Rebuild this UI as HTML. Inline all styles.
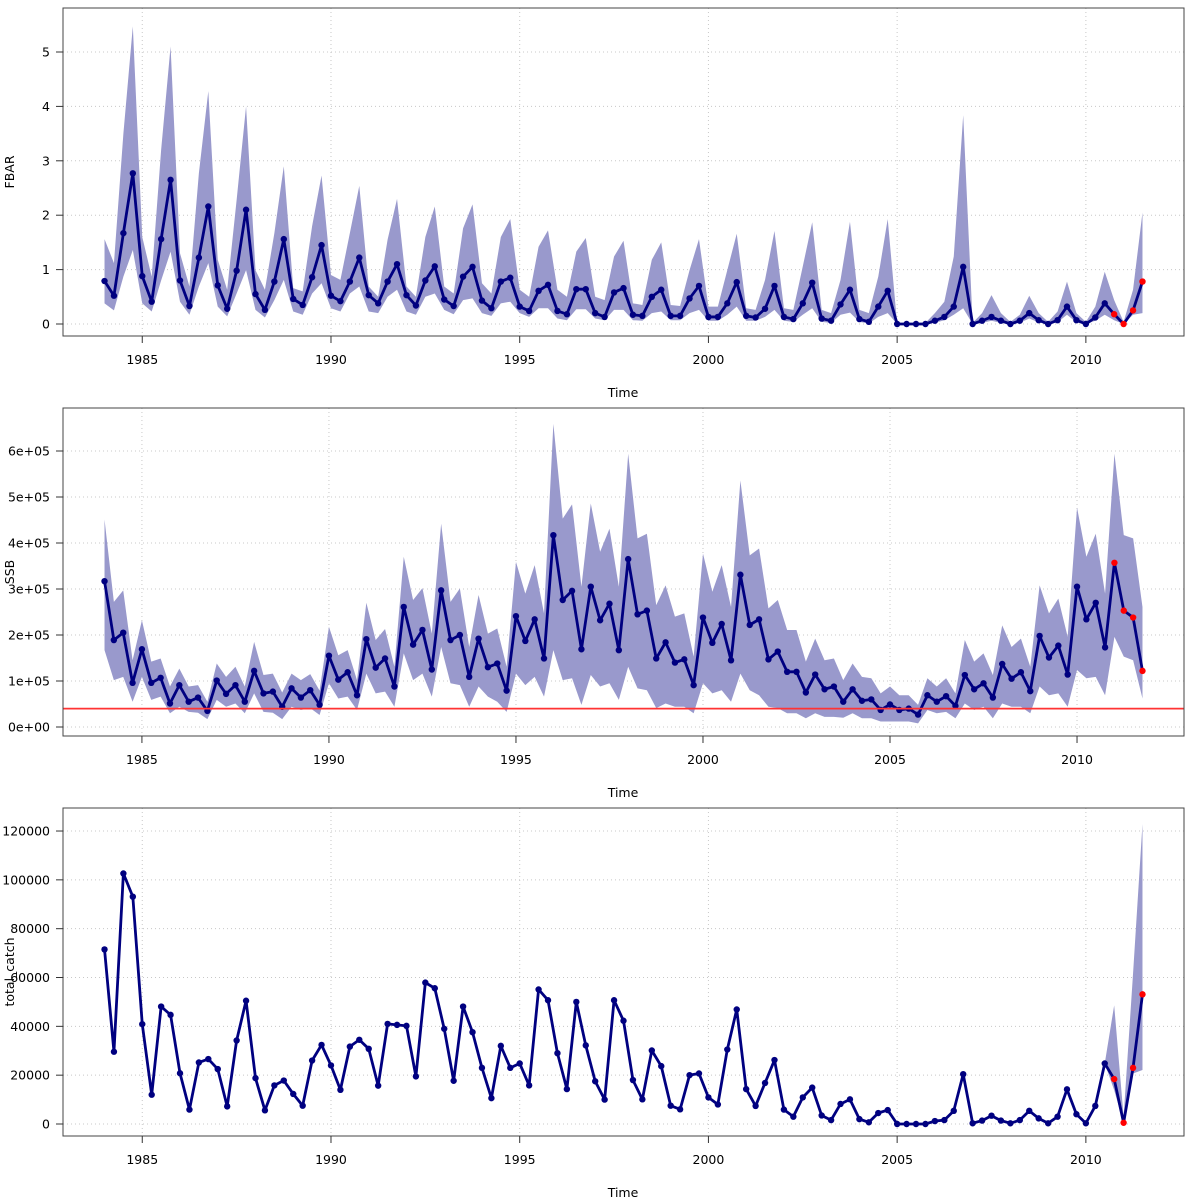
<!DOCTYPE html>
<html><head><meta charset="utf-8">
<style>
html,body{margin:0;padding:0;background:#fff;}
svg{display:block;font-family:"DejaVu Sans","Liberation Sans",sans-serif;}
</style></head>
<body>
<svg id="chart" width="1200" height="1200" viewBox="0 0 1200 1200" xmlns="http://www.w3.org/2000/svg">
<rect width="1200" height="1200" fill="#fff"/>
</svg>
<script>
// ---------- DATA ----------
const yearTicks = [1985, 1990, 1995, 2000, 2005, 2010];
const startYear = 1984;
const forecastCount = 4;

const fbar = [0.79,0.52,1.67,2.77, 0.88,0.41,1.56,2.65, 0.8,0.33,1.22,2.16, 0.71,0.28,0.98,2.1,
 0.55,0.26,0.78,1.56, 0.46,0.35,0.86,1.45, 0.52,0.42,0.78,1.22, 0.53,0.38,0.78,1.1,
 0.53,0.34,0.8,1.06, 0.45,0.33,0.87,1.05, 0.43,0.29,0.78,0.85, 0.32,0.24,0.61,0.72,
 0.24,0.18,0.64,0.64, 0.2,0.13,0.58,0.66, 0.17,0.15,0.5,0.63, 0.15,0.15,0.47,0.7,
 0.13,0.13,0.38,0.77, 0.15,0.12,0.28,0.7, 0.13,0.09,0.38,0.76, 0.1,0.06,0.36,0.63,
 0.09,0.04,0.32,0.61, 0,0,0,0, 0.06,0.13,0.32,1.05, 0,0.06,0.13,0.06,
 0,0.06,0.2,0.07, 0,0.07,0.32,0.07, 0,0.12,0.38,0.18, 0,0.25,0.78];
const fbarHi = [1.56,1.12,3.5,5.47, 1.6,0.87,3.2,5.1, 1.3,0.69,2.77,4.28, 1.18,0.63,2.28,4.0,
 0.99,0.63,1.67,2.9, 0.66,0.6,1.8,2.73, 0.9,0.81,1.67,2.54, 0.69,0.5,1.55,2.3,
 0.69,0.5,1.6,2.16, 0.69,0.56,1.76,2.2, 0.75,0.56,1.6,1.93, 0.63,0.5,1.42,1.72,
 0.63,0.5,1.33,1.58, 0.5,0.44,1.24,1.53, 0.38,0.35,1.18,1.5, 0.35,0.33,0.99,1.56,
 0.32,0.32,0.99,1.66, 0.29,0.26,0.81,1.71, 0.29,0.26,1.06,1.87, 0.26,0.2,0.81,1.88,
 0.26,0.2,0.87,1.93, 0,0,0,0.02, 0.2,0.41,1.24,3.84, 0.02,0.2,0.53,0.2,
 0.04,0.17,0.52,0.2, 0.04,0.23,0.78,0.2, 0.04,0.32,0.96,0.44, 0.04,0.63,2.05];
const fbarLo = [0.38,0.25,0.87,1.36, 0.38,0.23,0.8,1.33, 0.41,0.17,0.69,1.12, 0.32,0.14,0.56,0.99,
 0.26,0.12,0.44,0.81, 0.23,0.17,0.56,0.75, 0.29,0.23,0.56,0.69, 0.23,0.2,0.5,0.63,
 0.23,0.17,0.5,0.56, 0.26,0.18,0.44,0.47, 0.2,0.15,0.38,0.41, 0.2,0.13,0.29,0.29,
 0.1,0.07,0.27,0.27, 0.1,0.07,0.26,0.26, 0.07,0.06,0.2,0.23, 0.07,0.07,0.2,0.26,
 0.06,0.06,0.17,0.32, 0.06,0.06,0.13,0.26, 0.06,0.04,0.17,0.29, 0.04,0.02,0.17,0.21,
 0.04,0.01,0.13,0.2, 0,0,0,0, 0.02,0.07,0.17,0.29, 0,0.02,0.06,0.02,
 0,0.02,0.1,0.03, 0,0.03,0.17,0.03, 0,0.06,0.17,0.07, 0,0.17,0.2];

// SSB in units of 1e5
const ssb = [3.17,1.89,2.05,0.96, 1.69,0.96,1.07,0.51, 0.91,0.55,0.64,0.35, 1.01,0.72,0.91,0.55,
 1.22,0.73,0.77,0.44, 0.84,0.64,0.8,0.48, 1.55,1.03,1.19,0.69, 1.91,1.29,1.49,0.88,
 2.61,1.79,2.11,1.25, 2.97,1.89,2.0,1.09, 1.92,1.3,1.38,0.79, 2.41,1.87,2.34,1.49,
 4.17,2.76,2.96,1.69, 3.05,2.32,2.68,1.67, 3.65,2.45,2.53,1.49, 1.84,1.4,1.47,0.91,
 2.38,1.83,2.24,1.45, 3.31,2.22,2.34,1.47, 1.64,1.2,1.2,0.75, 1.14,0.82,0.88,0.55,
 0.82,0.57,0.6,0.37, 0.49,0.37,0.4,0.27, 0.69,0.55,0.67,0.46, 1.13,0.82,0.95,0.64,
 1.37,1.05,1.19,0.78, 1.98,1.51,1.77,1.14, 3.05,2.34,2.7,1.73, 3.57,2.53,2.38,1.22];
const ssbHi = [4.51,2.72,2.97,1.45, 2.32,1.42,1.49,0.88, 1.27,0.88,0.91,0.55, 1.38,1.09,1.31,0.88,
 1.85,1.13,1.16,0.75, 1.16,1.02,1.15,0.79, 2.18,1.56,1.67,1.02, 2.7,1.89,2.13,1.31,
 3.7,2.76,3.02,2.03, 4.42,2.72,3.01,1.74, 2.87,2.03,2.14,1.31, 3.59,2.9,3.52,2.47,
 6.59,4.53,4.84,3.05, 4.86,3.81,4.31,3.05, 5.94,4.1,4.2,2.65, 3.08,2.4,2.47,1.53,
 3.77,2.94,3.52,2.61, 5.36,3.73,3.88,2.58, 2.76,2.11,2.11,1.42, 1.92,1.45,1.49,1.02,
 1.38,1.09,1.06,0.73, 0.88,0.69,0.69,0.48, 1.06,0.88,1.06,0.73, 1.89,1.42,1.6,1.13,
 2.21,1.74,1.92,1.31, 3.08,2.47,2.79,1.96, 4.77,3.7,4.2,2.9, 5.94,4.17,4.1,2.61];
const ssbLo = [1.67,1.02,1.09,0.55, 1.09,0.59,0.66,0.3, 0.44,0.33,0.31,0.17, 0.59,0.44,0.51,0.3,
 0.73,0.33,0.31,0.17, 0.44,0.37,0.41,0.26, 0.95,0.62,0.66,0.37, 1.16,0.73,0.77,0.44,
 1.6,1.02,1.16,0.66, 1.74,0.95,0.91,0.44, 0.88,0.66,0.55,0.33, 1.16,0.91,1.09,0.66,
 1.67,1.02,1.06,0.48, 1.13,0.88,0.95,0.59, 1.31,0.84,0.8,0.41, 0.51,0.44,0.44,0.3,
 0.95,0.73,0.8,0.55, 1.16,0.8,0.69,0.44, 0.41,0.3,0.3,0.19, 0.3,0.22,0.22,0.2,
 0.3,0.19,0.19,0.12, 0.12,0.12,0.12,0.08, 0.37,0.3,0.33,0.19, 0.51,0.37,0.44,0.19,
 0.51,0.44,0.44,0.3, 0.88,0.69,0.73,0.44, 1.24,1.06,1.09,0.69, 1.96,1.53,1.45,0.62];
const ssbRef = 0.4;

// total catch in thousands
const catchK = [71.5,29.6,102.6,93.1, 40.9,12.0,48.1,44.7, 20.8,5.9,25.2,26.6, 22.5,7.2,34.2,50.5,
 18.8,5.6,15.8,17.8, 12.3,7.5,26.0,32.4, 24.0,14.0,31.7,34.5, 30.8,15.7,41.0,40.6,
 40.2,19.5,57.9,55.6, 39.0,17.7,48.1,37.6, 23.0,10.6,32.0,23.0, 24.8,15.8,55.1,50.7,
 29.0,14.3,50.0,32.2, 17.5,10.0,50.7,42.3, 18.0,10.1,30.1,23.7, 7.5,6.0,20.0,20.7,
 10.9,8.0,30.5,46.9, 14.3,7.4,16.8,26.2, 5.9,3.0,10.9,14.9, 3.5,1.6,8.2,10.1,
 2.0,0.7,4.5,5.7, 0,0,0,0, 1.2,1.6,5.4,20.4, 0.3,1.4,3.4,1.4,
 0.3,1.6,5.4,2.3, 0.3,3.0,14.2,4.0, 0.3,7.4,24.8,18.4, 0.5,23.0,53.1];
const catchBandHi = [24.8,48.6,3.0,61.6,122.9];
const catchBandLo = [24.8,13.9,0.3,20.7,22.1];

const fbarTicks = [0,1,2,3,4,5];
const fbarTickLabels = ["0","1","2","3","4","5"];
const ssbTicks = [0,1,2,3,4,5,6];
const ssbTickLabels = ["0e+00","1e+05","2e+05","3e+05","4e+05","5e+05","6e+05"];
const catchTicks = [0,20,40,60,80,100,120];
const catchTickLabels = ["0","20000","40000","60000","80000","100000","120000"];

// ---------- DRAW ----------
const NS = "http://www.w3.org/2000/svg";
const svg = document.getElementById('chart');
function mk(tag, attrs, parent){
  const e = document.createElementNS(NS, tag);
  for (const k in attrs) e.setAttribute(k, attrs[k]);
  (parent||svg).appendChild(e);
  return e;
}
const L = 63, R = 1184;

function drawPanel(p){
  const g = mk('g', {});
  
  
  const n = p.values.length;
  const tEnd = startYear + (n-1)/4;
  const span = tEnd - startYear;
  const tLo = startYear - 0.04*span, tHi = tEnd + 0.04*span;
  const xs = t => L + (t - tLo)/(tHi - tLo)*(R - L);
  const ys = v => p.y0 - v*p.ppu;
  const tOf = i => startYear + i/4;

  // grid
  const grid = mk('g', {stroke:'#c8c8c8','stroke-width':1,'stroke-dasharray':'1,3'}, g);
  
  
  yearTicks.forEach(t => mk('line',{x1:xs(t),x2:xs(t),y1:p.top,y2:p.bot},grid));
  p.ticks.forEach(v => mk('line',{x1:L,x2:R,y1:ys(v),y2:ys(v)},grid));

  // band
  if (p.hi){
    const i0 = p.bandStart||0;
    let pts = [];
    for (let j=0;j<p.hi.length;j++) pts.push(xs(tOf(i0+j))+','+ys(p.hi[j]));
    for (let j=p.lo.length-1;j>=0;j--) pts.push(xs(tOf(i0+j))+','+ys(p.lo[j]));
    const band = mk('polygon',{points:pts.join(' '),fill:'#9999cc',stroke:'none'},g);
    
    
  }

  // line
  const lp = p.values.map((v,i)=>xs(tOf(i))+','+ys(v)).join(' ');
  const line = mk('polyline',{points:lp,fill:'none',stroke:'#000080','stroke-width':2.8,'stroke-linejoin':'round'},g);
  
  

  // points
  p.values.forEach((v,i)=>{
    const red = i >= n - forecastCount;
    const c = mk('circle',{cx:xs(tOf(i)),cy:ys(v),r:3.2,fill:red?'#ff0000':'#000080'},g);
    
    
  });

  // reference line
  if (p.ref !== undefined){
    const rl = mk('line',{x1:L,x2:R,y1:ys(p.ref),y2:ys(p.ref),stroke:'#ff3333','stroke-width':1.8},g);
    
    
  }

  // frame
  const fr = mk('rect',{x:L,y:p.top,width:R-L,height:p.bot-p.top,fill:'none',stroke:'#444','stroke-width':1},g);
  
  

  // x axis
  const xa = mk('g',{},g);
  
  
  yearTicks.forEach(t=>{
    mk('line',{x1:xs(t),x2:xs(t),y1:p.bot,y2:p.bot+7,stroke:'#333','stroke-width':1},xa);
    const tx = mk('text',{x:xs(t),y:p.bot+28,'text-anchor':'middle','font-size':12.5,fill:'#000'},xa);
    tx.textContent = t;
    
    
  });
  const xt = mk('text',{x:623,y:p.bot+61,'text-anchor':'middle','font-size':12.5,fill:'#000'},g);
  xt.textContent = 'Time';
  
  

  // y axis
  const ya = mk('g',{},g);
  
  
  p.ticks.forEach((v,k)=>{
    mk('line',{x1:L-7,x2:L,y1:ys(v),y2:ys(v),stroke:'#333','stroke-width':1},ya);
    const tx = mk('text',{x:L-13,y:ys(v)+4.5,'text-anchor':'end','font-size':12.5,fill:'#000'},ya);
    tx.textContent = p.labels[k];
    
    
  });
  const cy = (p.top+p.bot)/2;
  const yt = mk('text',{x:14,y:cy,'text-anchor':'middle','font-size':12.5,fill:'#000',transform:'rotate(-90 14 '+cy+')'},g);
  yt.textContent = p.title;
  
  
}

drawPanel({name:'fbar',title:'FBAR',top:8,bot:336,y0:324,ppu:54.4,values:fbar,hi:fbarHi,lo:fbarLo,ticks:fbarTicks,labels:fbarTickLabels});
drawPanel({name:'ssb',title:'SSB',top:408,bot:736,y0:727,ppu:46,values:ssb,hi:ssbHi,lo:ssbLo,ref:ssbRef,ticks:ssbTicks,labels:ssbTickLabels});
drawPanel({name:'catch',title:'total_catch',top:808,bot:1136,y0:1124,ppu:2.4415,values:catchK,hi:catchBandHi,lo:catchBandLo,bandStart:catchK.length-5,ticks:catchTicks,labels:catchTickLabels});
</script>
</body></html>
